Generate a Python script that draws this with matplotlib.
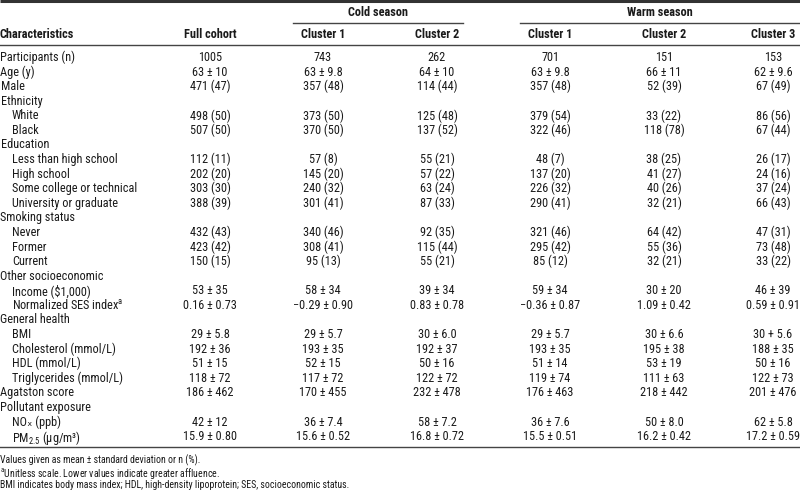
import matplotlib
matplotlib.use("Agg")
import matplotlib.pyplot as plt
from matplotlib import font_manager as fm

_names = {f.name for f in fm.fontManager.ttflist}
_prefs = ['Liberation Sans Narrow', 'Arial Narrow', 'Nimbus Sans Narrow',
          'Roboto Condensed', 'Archivo Narrow', 'PT Sans Narrow', 'Liberation Sans']
CHOSEN = next(p for p in _prefs if p in _names)
plt.rcParams['font.family'] = [CHOSEN, 'DejaVu Sans']
plt.rcParams['mathtext.fontset'] = 'custom'
plt.rcParams['mathtext.rm'] = CHOSEN
plt.rcParams['mathtext.it'] = CHOSEN
plt.rcParams['mathtext.bf'] = CHOSEN + ':bold'

# ---- data ----
row_labels = [
    ("Participants (n)", 0), ("Age (y)", 0), ("Male", 0), ("Ethnicity", 0),
    ("White", 1), ("Black", 1), ("Education", 0), ("Less than high school", 1),
    ("High school", 1), ("Some college or technical", 1), ("University or graduate", 1),
    ("Smoking status", 0), ("Never", 1), ("Former", 1), ("Current", 1),
    ("Other socioeconomic", 0), ("Income ($1,000)", 1),
    (r"Normalized SES index$^{\mathrm{a}}$", 1), ("General health", 0),
    ("BMI", 1), ("Cholesterol (mmol/L)", 1), ("HDL (mmol/L)", 1),
    ("Triglycerides (mmol/L)", 1), ("Agatston score", 0), ("Pollutant exposure", 0),
    ("NOₓ (ppb)", 1), (r"PM$_{\mathrm{2.5}}$ (µg/m³)", 1),
]
full_cohort = ["1005", "63±10", "471 (47)", "", "498 (50)", "507 (50)", "", "112 (11)",
               "202 (20)", "303 (30)", "388 (39)", "", "432 (43)", "423 (42)", "150 (15)",
               "", "53±35", "0.16±0.73", "", "29±5.8", "192±36", "51±15", "118±72",
               "186±462", "", "42±12", "15.9±0.80"]
cold_c1 = ["743", "63±9.8", "357 (48)", "", "373 (50)", "370 (50)", "", "57 (8)",
           "145 (20)", "240 (32)", "301 (41)", "", "340 (46)", "308 (41)", "95 (13)",
           "", "58±34", "−0.29±0.90", "", "29±5.7", "193±35", "52±15", "117±72",
           "170±455", "", "36±7.4", "15.6±0.52"]
cold_c2 = ["262", "64±10", "114 (44)", "", "125 (48)", "137 (52)", "", "55 (21)",
           "57 (22)", "63 (24)", "87 (33)", "", "92 (35)", "115 (44)", "55 (21)",
           "", "39±34", "0.83±0.78", "", "30±6.0", "192±37", "50±16", "122±72",
           "232±478", "", "58±7.2", "16.8±0.72"]
warm_c1 = ["701", "63±9.8", "357 (48)", "", "379 (54)", "322 (46)", "", "48 (7)",
           "137 (20)", "226 (32)", "290 (41)", "", "321 (46)", "295 (42)", "85 (12)",
           "", "59±34", "−0.36±0.87", "", "29±5.7", "193±35", "51±14", "119±74",
           "176±463", "", "36±7.6", "15.5±0.51"]
warm_c2 = ["151", "66±11", "52 (39)", "", "33 (22)", "118 (78)", "", "38 (25)",
           "41 (27)", "40 (26)", "32 (21)", "", "64 (42)", "55 (36)", "32 (21)",
           "", "30±20", "1.09±0.42", "", "30±6.6", "195±38", "53±19", "111±63",
           "218±442", "", "50±8.0", "16.2±0.42"]
warm_c3 = ["153", "62±9.6", "67 (49)", "", "86 (56)", "67 (44)", "", "26 (17)",
           "24 (16)", "37 (24)", "66 (43)", "", "47 (31)", "73 (48)", "33 (22)",
           "", "46±39", "0.59±0.91", "", "30+5.6", "188±35", "50±16", "122±73",
           "201±476", "", "62±5.8", "17.2±0.59"]
col_headers = ["Full cohort", "Cluster 1", "Cluster 2", "Cluster 1", "Cluster 2", "Cluster 3"]
group_headers = ["Cold season", "Warm season"]
footnotes = [
    "Values given as mean ± standard deviation or n (%).",
    r"$^{\mathrm{a}}$Unitless scale. Lower values indicate greater affluence.",
    "BMI indicates body mass index; HDL, high-density lipoprotein; SES, socioeconomic status.",
]

# ---- layout (pixels, y from top) ----
W, H = 800, 494
fig = plt.figure(figsize=(W / 100, H / 100), dpi=100)
fig.patch.set_facecolor("white")
ax = fig.add_axes([0, 0, 1, 1])
ax.set_xlim(0, W)
ax.set_ylim(H, 0)
ax.axis("off")

TXT = "#1a1a1a"
LINE = "#444444"
FS = 8.8
col_x = [210, 323, 437, 550, 664, 773]
row_y0, row_dy = 56.0, 14.58

# rules
ax.plot([0, W], [1.2, 1.2], color="#333333", lw=2.2, solid_capstyle="butt")
ax.plot([293, 463], [23.3, 23.3], color=LINE, lw=1.0)
ax.plot([520, W], [23.3, 23.3], color=LINE, lw=1.0)
ax.plot([0, W], [45, 45], color=LINE, lw=1.0)
ax.plot([0, W], [446.7, 446.7], color=LINE, lw=1.0)

# headers
ax.text(378, 12.7, group_headers[0], ha="center", va="center", fontsize=FS,
        fontweight="bold", color=TXT)
ax.text(660, 12.7, group_headers[1], ha="center", va="center", fontsize=FS,
        fontweight="bold", color=TXT)
ax.text(0, 35, "Characteristics", ha="left", va="center", fontsize=FS,
        fontweight="bold", color=TXT)
for x, h in zip(col_x, col_headers):
    ax.text(x, 35, h, ha="center", va="center", fontsize=FS, fontweight="bold", color=TXT)

cols = [full_cohort, cold_c1, cold_c2, warm_c1, warm_c2, warm_c3]
for i, (lab, indent) in enumerate(row_labels):
    y = row_y0 + i * row_dy
    ax.text(0.5 + indent * 11.5, y, lab, ha="left", va="center_baseline",
            fontsize=FS, color=TXT)
    for x, col in zip(col_x, cols):
        v = col[i]
        if v:
            v = v.replace("±", " ± ").replace("+", " + ")
            ax.text(x, y, v, ha="center", va="center_baseline", fontsize=FS, color=TXT)

for k, t in enumerate(footnotes):
    ax.text(0.5, 459.3 + k * 12.5, t, ha="left", va="center_baseline",
            fontsize=7.1, color=TXT)

fig.savefig("out.png", dpi=100, facecolor="white")
